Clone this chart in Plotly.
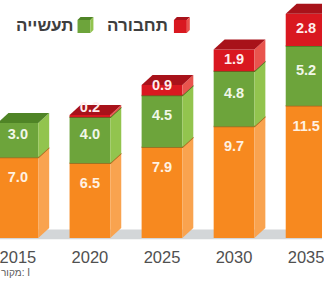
import plotly.graph_objects as go

# ---- data ----
years = ["2015", "2020", "2025", "2030", "2035"]
orange_vals = [7.0, 6.5, 7.9, 9.7, 11.5]
industry_vals = [3.0, 4.0, 4.5, 4.8, 5.2]      # תעשייה
transport_vals = [0.0, 0.2, 0.9, 1.9, 2.8]     # תחבורה
legend_labels = ["תחבורה", "תעשייה"]
source_text = "\u200eמקור: I"

# ---- geometry / style ----
W, H = 324, 285
MB = 40
px_per_x = 72.5
px_per_y = 11.5
x0_px = 18.0
base_px = 238
plot_h = H - MB
xmin = -x0_px / px_per_x
xmax = xmin + W / px_per_x
ymin = -(plot_h - base_px) / px_per_y
ymax = ymin + plot_h / px_per_y

bw = 41 / px_per_x
dx = 11 / px_per_x
dy = 10 / px_per_y

series = [
    dict(vals=orange_vals, front="#F7891F", side="#F9A34F", top="#E07A1C", edge="#A8651E", lab="#FFF1E2"),
    dict(vals=industry_vals, front="#6DA43B", side="#92C44E", top="#4F8426", edge="#4A7422", lab="#F1F7E8"),
    dict(vals=transport_vals, front="#D9182000"[:7], side="#E9544E", top="#A8121A", edge="#8E0E12", lab="#FFECEC"),
]

fig = go.Figure()
xs = list(range(len(years)))

# floor
fig.add_shape(type="rect", xref="x", yref="y", x0=xmin, x1=xmax, y0=-0.1, y1=0.75,
              fillcolor="#D3D6D8", line_width=0, layer="below")

bottoms = [0.0] * len(years)
segs = []
for s in series:
    tops = [b + v for b, v in zip(bottoms, s["vals"])]
    segs.append((s, list(bottoms), tops))
    bottoms = tops

for i, x in enumerate(xs):
    xl, xr = x - bw / 2, x + bw / 2
    nonzero = [k for k, (s, b, t) in enumerate(segs) if s["vals"][i] > 0]
    topk = nonzero[-1]
    for k in nonzero:
        s, b, t = segs[k]
        bb, tt = b[i], t[i]
        # front face
        fig.add_trace(go.Scatter(x=[xl, xr, xr, xl, xl], y=[bb, bb, tt, tt, bb], mode="lines",
                                 fill="toself", fillcolor=s["front"], line=dict(width=0),
                                 hoverinfo="skip", showlegend=False))
        # side face
        fig.add_trace(go.Scatter(x=[xr, xr + dx, xr + dx, xr, xr], y=[bb, bb + dy, tt + dy, tt, bb],
                                 mode="lines", fill="toself", fillcolor=s["side"], line=dict(width=0),
                                 hoverinfo="skip", showlegend=False))
        if k == topk:
            fig.add_trace(go.Scatter(x=[xl, xl + dx, xr + dx, xr, xl], y=[tt, tt + dy, tt + dy, tt, tt],
                                     mode="lines", fill="toself", fillcolor=s["top"], line=dict(width=0),
                                     hoverinfo="skip", showlegend=False))
        else:
            fig.add_trace(go.Scatter(x=[xl, xr, xr + dx], y=[tt, tt, tt + dy], mode="lines",
                                     line=dict(width=1.5, color=s["edge"]),
                                     hoverinfo="skip", showlegend=False))

# value labels
for k, (s, b, t) in enumerate(segs):
    lab_x, lab_y, lab_t = [], [], []
    for i, x in enumerate(xs):
        v = s["vals"][i]
        if v <= 0:
            continue
        if k == 0:
            y = t[i] - 1.85
        elif k == 1:
            y = (b[i] + t[i]) / 2 + 0.4
        else:
            y = max((b[i] + t[i]) / 2, b[i] + 0.75)
        lab_x.append(x)
        lab_y.append(y)
        lab_t.append(f"<b>{v:.1f}</b>")
    fig.add_trace(go.Scatter(x=lab_x, y=lab_y, text=lab_t, mode="text",
                             textfont=dict(color=s["lab"], size=14.5, family="Liberation Sans"),
                             hoverinfo="skip", showlegend=False, cliponaxis=False))

# legend (RTL: swatch to the right of the text)
def py(p):
    return 1 - p / plot_h

leg_items = [(legend_labels[0], series[2], 171, 175), (legend_labels[1], series[1], 75, 78)]
for txt, s, txt_right, sq_left in leg_items:
    fig.add_annotation(text=f"<b>{txt}</b>", xref="paper", yref="paper", x=txt_right / W, y=py(25.5),
                       xanchor="right", yanchor="middle", showarrow=False,
                       font=dict(size=17, color="#3E3E3E", family="Liberation Sans"))
    fig.add_shape(type="rect", xref="paper", yref="paper", x0=sq_left / W, x1=(sq_left + 13) / W,
                  y0=py(33), y1=py(20), fillcolor=s["front"], line_width=0)
    fig.add_shape(type="path", xref="paper", yref="paper",
                  path=f"M {sq_left / W} {py(20)} L {(sq_left + 3) / W} {py(17)} L {(sq_left + 16) / W} {py(17)} "
                       f"L {(sq_left + 13) / W} {py(20)} Z",
                  fillcolor=s["top"], line_width=0)
    fig.add_shape(type="path", xref="paper", yref="paper",
                  path=f"M {(sq_left + 13) / W} {py(20)} L {(sq_left + 16) / W} {py(17)} L {(sq_left + 16) / W} {py(30)} "
                       f"L {(sq_left + 13) / W} {py(33)} Z",
                  fillcolor=s["side"], line_width=0)

# source
fig.add_annotation(text=source_text, xref="paper", yref="paper", x=-1 / W, y=py(272),
                   xanchor="left", yanchor="middle", showarrow=False,
                   font=dict(size=10, color="#5A5A5A", family="Liberation Sans"))

fig.update_layout(
    width=W, height=H,
    margin=dict(l=0, r=0, t=0, b=MB),
    plot_bgcolor="white", paper_bgcolor="white",
    xaxis=dict(range=[xmin, xmax], tickvals=xs, ticktext=years, showgrid=False, zeroline=False,
               showline=False, ticks="", ticklabeloverflow="allow",
               tickfont=dict(size=16.5, color="#505050", family="Liberation Sans"),
               fixedrange=True),
    yaxis=dict(range=[ymin, ymax], visible=False, fixedrange=True),
    showlegend=False,
)

fig.write_html("out.html", config={"displayModeBar": False},
               post_script="document.body.style.margin='0';document.body.style.overflow='hidden';")
